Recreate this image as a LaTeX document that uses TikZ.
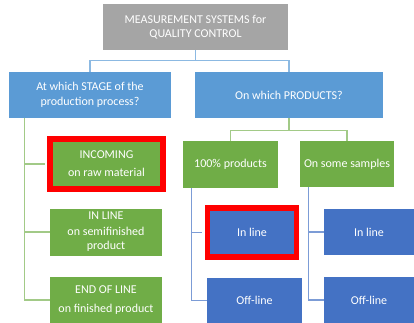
\documentclass[tikz,border=0pt]{standalone}
\usepackage{fontspec}
\setmainfont{Carlito}
\usetikzlibrary{calc}

\definecolor{topgray}{HTML}{A5A5A5}
\definecolor{skyblue}{HTML}{5B9BD5}
\definecolor{leafgreen}{HTML}{70AD47}
\definecolor{deepblue}{HTML}{4472C4}

\tikzset{
  box/.style={text=white, align=center, inner sep=0pt,
    font=\fontsize{12}{14.5}\selectfont},
  graybox/.style={box, fill=topgray},
  skybox/.style={box, fill=skyblue},
  greenbox/.style={box, fill=leafgreen},
  bluebox/.style={box, fill=deepblue},
  marked/.style={draw=red, line width=5.5pt},
  skyline/.style={draw=skyblue!70, line width=1.2pt},
  greenline/.style={draw=leafgreen!65, line width=1.2pt},
  blueline/.style={draw=deepblue!70, line width=1.2pt}
}

\begin{document}
\begin{tikzpicture}[x=1pt, y=-1pt]
  \useasboundingbox (0,0) rectangle (414,323);

  % top
  \node[graybox, minimum width=185pt, minimum height=46pt] (top) at (195.5,27)
    {MEASUREMENT SYSTEMS for\\QUALITY CONTROL};

  % second level
  \node[skybox, minimum width=162pt, minimum height=46pt] (stage) at (90,95)
    {At which STAGE of the\\production process?};
  \node[skybox, minimum width=188pt, minimum height=46pt] (products) at (289,95)
    {On which PRODUCTS?};

  % stages
  \node[greenbox, marked, minimum width=113pt, minimum height=50pt] (incoming) at (106.5,164)
    {INCOMING\\[3.5pt]on raw material};
  \node[greenbox, minimum width=112pt, minimum height=47pt] (inlinestage) at (106,232)
    {IN LINE\\[1pt]on semifinished\\product};
  \node[greenbox, minimum width=112pt, minimum height=46pt] (endline) at (106,300)
    {END OF LINE\\[4pt]on finished product};

  % products
  \node[greenbox, minimum width=95pt, minimum height=47pt] (all) at (230.5,164.5)
    {100\% products};
  \node[greenbox, minimum width=94pt, minimum height=46pt] (samples) at (347,164)
    {On some samples};

  % measuring modes
  \node[bluebox, marked, minimum width=89pt, minimum height=49pt] (allin) at (252,232.5)
    {In line};
  \node[bluebox, minimum width=95pt, minimum height=46pt] (alloff) at (254.5,300.5)
    {Off-line};
  \node[bluebox, minimum width=90pt, minimum height=46pt] (samplein) at (369,232)
    {In line};
  \node[bluebox, minimum width=90pt, minimum height=46pt] (sampleoff) at (369,300)
    {Off-line};

  % connectors
  \draw[skyline] (top.south) -- ++(0,10) -| (stage.north);
  \draw[skyline] (top.south) -- ++(0,10) -| (products.north);

  \draw[greenline] ([xshift=16pt]stage.south west) |- ([xshift=-2.75pt]incoming.west);
  \draw[greenline] ([xshift=16pt]stage.south west) |- (inlinestage.west);
  \draw[greenline] ([xshift=16pt]stage.south west) |- (endline.west);

  \draw[greenline] (products.south) -- ++(0,12) -| (all.north);
  \draw[greenline] (products.south) -- ++(0,12) -| (samples.north);

  \draw[blueline] ([xshift=9pt]all.south west) |- ([xshift=-2.75pt]allin.west);
  \draw[blueline] ([xshift=9pt]all.south west) |- (alloff.west);
  \draw[blueline] ([xshift=9pt]samples.south west) |- (samplein.west);
  \draw[blueline] ([xshift=9pt]samples.south west) |- (sampleoff.west);
\end{tikzpicture}
\end{document}
